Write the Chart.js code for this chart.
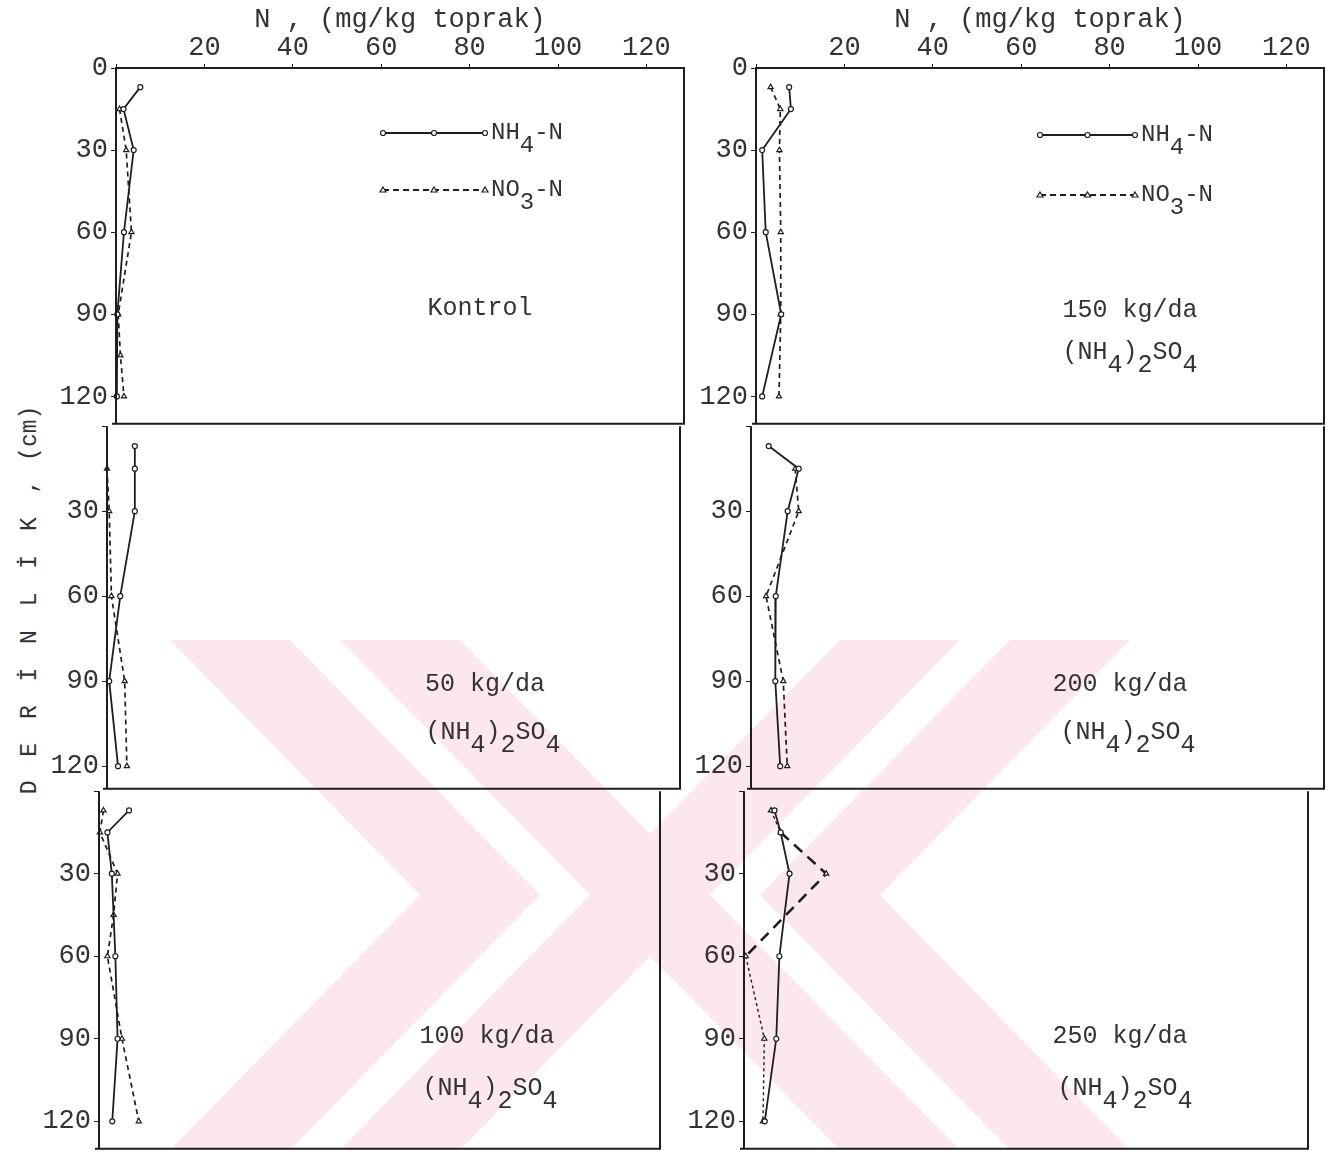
<!DOCTYPE html>
<html>
<head>
<meta charset="utf-8">
<script src="https://cdn.jsdelivr.net/npm/chart.js@4.4.1/dist/chart.umd.min.js"></script>
<style>
  html, body { margin: 0; padding: 0; background: #fff; }
  #page { position: relative; width: 1335px; height: 1154px; overflow: hidden; }
  #page canvas { position: absolute; }
  #wm { position: absolute; left: 0; top: 0; }
  #ytitle {
    position: absolute; left: 30px; top: 600px;
    transform: translate(-50%, -50%) rotate(-90deg);
    font: 23px 'Liberation Mono', monospace; color: #333; white-space: nowrap;
  }
  #ytitle span { letter-spacing: 5px; }
</style>
</head>
<body>
<div id="page">
  <svg id="wm" width="1335" height="1154">
    <g fill="#fce8ec">
      <polygon points="170,640 290,640 540,895 290,1150 170,1150 420,895"/>
      <polygon points="340,640 460,640 710,895 460,1150 340,1150 590,895"/>
      <polygon points="1130,640 1010,640 760,895 1010,1150 1130,1150 880,895"/>
      <polygon points="960,640 840,640 590,895 840,1150 960,1150 710,895"/>
    </g>
  </svg>
  <div id="ytitle"><span>D E R İ N L İ K ,</span> (cm)</div>
</div>
<script>
// depths (cm) at which samples are plotted
const depthA = [7, 15, 30, 60, 90, 120];
const depthKontrolNO3 = [15, 30, 60, 90, 105, 120];
const depth50NO3 = [15, 30, 60, 90, 120];
const depth100NO3 = [7, 15, 30, 45, 60, 90, 120];
const depth200NO3 = [15, 30, 60, 90, 120];

// N, mg/kg toprak
const kontrolNH4 = [5.5, 1.7, 4.0, 1.8, 0.3, 0.2];
const kontrolNO3 = [0.8, 2.3, 3.5, 0.5, 1.0, 1.8];
const da50NH4 = [6.3, 6.3, 6.3, 3.0, 0.5, 2.5];
const da50NO3 = [0.0, 0.5, 1.0, 4.0, 4.5];
const da100NH4 = [6.8, 1.9, 2.9, 3.7, 4.2, 3.0];
const da100NO3 = [1.0, 0.2, 4.2, 3.3, 1.9, 5.2, 9.0];
const da150NH4 = [7.5, 7.9, 1.4, 2.2, 5.7, 1.4];
const da150NO3 = [3.3, 5.5, 5.3, 5.6, 5.6, 5.2];
const da200NH4 = [4.0, 10.8, 8.3, 5.6, 5.5, 6.6];
const da200NO3 = [10.0, 10.8, 3.4, 7.3, 8.2];
const da250NH4 = [6.9, 8.3, 10.3, 8.0, 7.3, 4.7];
const da250NO3 = [6.1, 8.3, 18.6, 0.4, 4.6, 4.3];

const xTicks = [20, 40, 60, 80, 100, 120];
const yTicks = [0, 30, 60, 90, 120];

const INK = '#1e1e1e';
const TXT = '#333';
const FONT = "'Liberation Mono', monospace";
const PX_PER_UNIT = 4.42;

// the scanned page is slightly skewed, so each panel has its own box
const ROWS = [{top: 68, height: 357, max: 130}, {top: 425, height: 365, max: 128}, {top: 790, height: 360, max: 130}];
const BOXES = [
  [{left: 116, width: 568}, {left: 756, width: 568}],
  [{left: 107, width: 573}, {left: 751, width: 573}],
  [{left: 99, width: 561}, {left: 744, width: 564}]
];

function series(depths, values) {
  return depths.map((d, i) => ({x: values[i], y: d}));
}

// draws text with subscripts: parts = [[text, sub?], ...]
function drawRich(ctx, parts, cx, y, size) {
  ctx.font = size + 'px ' + FONT;
  const w = parts.reduce((s, p) => s + ctx.measureText(p[0]).width, 0);
  let x = cx - w / 2;
  ctx.textBaseline = 'middle';
  ctx.textAlign = 'left';
  for (const [t, sub] of parts) {
    ctx.fillText(t, x, sub ? y + 13 : y);
    x += ctx.measureText(t).width;
  }
}

const SALT = [['(NH'], ['4', 1], [')'], ['2', 1], ['SO'], ['4', 1]];

const decor = {
  id: 'decor',
  afterDraw(chart, args, opts) {
    const {ctx, chartArea: a} = chart;
    ctx.save();
    ctx.strokeStyle = INK;
    ctx.lineWidth = 2;
    ctx.beginPath();
    if (opts.top) { ctx.moveTo(a.left, a.top); ctx.lineTo(a.right, a.top); }
    ctx.moveTo(a.right, a.top); ctx.lineTo(a.right, a.bottom); ctx.lineTo(a.left - 4, a.bottom);
    ctx.moveTo(a.left, a.top); ctx.lineTo(a.left, a.bottom);
    ctx.stroke();
    ctx.fillStyle = TXT;
    (opts.lines || []).forEach((ln) => {
      drawRich(ctx, ln.parts, a.left + ln.x, a.top + ln.y, ln.size || 25);
    });
    if (opts.legend) {
      const L = opts.legend;
      const rows = [
        {dash: [], y: L.y1, marker: 'circle', parts: [['NH'], ['4', 1], ['-N']]},
        {dash: [6, 4], y: L.y2, marker: 'triangle', parts: [['NO'], ['3', 1], ['-N']]}
      ];
      for (const r of rows) {
        const x0 = a.left + L.x0, x1 = a.left + L.x1, y = a.top + r.y;
        ctx.strokeStyle = INK;
        ctx.lineWidth = 1.8;
        ctx.setLineDash(r.dash);
        ctx.beginPath(); ctx.moveTo(x0, y); ctx.lineTo(x1, y); ctx.stroke();
        ctx.setLineDash([]);
        ctx.lineWidth = 1.2;
        for (const mx of [x0, (x0 + x1) / 2, x1]) {
          ctx.beginPath();
          if (r.marker === 'circle') ctx.arc(mx, y, 2.5, 0, Math.PI * 2);
          else { ctx.moveTo(mx, y - 3); ctx.lineTo(mx + 3, y + 2); ctx.lineTo(mx - 3, y + 2); ctx.closePath(); }
          ctx.fillStyle = '#fff'; ctx.fill(); ctx.stroke();
        }
        ctx.fillStyle = TXT;
        ctx.font = '24px ' + FONT;
        const w = r.parts.reduce((s, p) => s + ctx.measureText(p[0]).width, 0);
        drawRich(ctx, r.parts, x1 + 6 + w / 2, y, 24);
      }
    }
    ctx.restore();
  }
};

function noPad(s) {
  s.paddingTop = 0; s.paddingBottom = 0; s.paddingLeft = 0; s.paddingRight = 0;
}

function makePanel(col, row, nh4, no3, decorOpts, no3Segment) {
  const C = BOXES[row][col], R = ROWS[row];
  const topRow = row === 0;
  const padTop = topRow ? R.top : 4;
  const cv = document.createElement('canvas');
  const W = C.width + 70 + 15, H = R.height + padTop + 4;
  cv.width = W; cv.height = H;
  cv.style.left = (C.left - 70) + 'px';
  cv.style.top = (R.top - padTop) + 'px';
  cv.style.width = W + 'px'; cv.style.height = H + 'px';
  document.getElementById('page').appendChild(cv);
  decorOpts.top = topRow;

  const no3Set = {
    label: 'NO3-N', data: no3, borderColor: INK, borderWidth: 1.7, borderDash: [5, 4],
    pointStyle: 'triangle', pointRadius: 3, pointBackgroundColor: '#fff',
    pointBorderColor: INK, pointBorderWidth: 1.2, tension: 0, fill: false, clip: 8
  };
  if (no3Segment) no3Set.segment = no3Segment;

  new Chart(cv, {
    type: 'line',
    data: {
      datasets: [
        {
          label: 'NH4-N', data: nh4, borderColor: INK, borderWidth: 1.8,
          pointStyle: 'circle', pointRadius: 2.5, pointBackgroundColor: '#fff',
          pointBorderColor: INK, pointBorderWidth: 1.2, tension: 0, fill: false, clip: 8
        },
        no3Set
      ]
    },
    options: {
      responsive: false,
      animation: false,
      devicePixelRatio: 1,
      layout: {padding: {left: 0, right: 15, top: topRow ? 0 : 4, bottom: 4}},
      plugins: {legend: {display: false}, tooltip: {enabled: false}, decor: decorOpts},
      scales: {
        x: {
          type: 'linear', position: 'top', min: 0, max: C.width / PX_PER_UNIT, display: topRow,
          afterBuildTicks: (s) => { s.ticks = [0, ...xTicks].map((v) => ({value: v})); },
          afterFit: (s) => { s.height = topRow ? R.top : 0; noPad(s); },
          ticks: {
            callback: (v) => (v === 0 ? '' : v), font: {family: FONT, size: 27},
            color: TXT, padding: 0, maxRotation: 0, autoSkip: false
          },
          grid: {drawOnChartArea: false, drawTicks: true, tickLength: 4, color: INK},
          border: {color: INK, width: 2},
          title: {display: true, text: 'N , (mg/kg toprak)', font: {family: FONT, size: 27}, color: TXT, padding: {top: 4, bottom: 0}}
        },
        y: {
          type: 'linear', reverse: true, min: 0, max: R.max,
          afterBuildTicks: (s) => { s.ticks = yTicks.map((v) => ({value: v})); },
          afterFit: (s) => { s.width = 70; noPad(s); },
          ticks: {
            callback: (v) => (v === 0 && !topRow ? '' : v), font: {family: FONT, size: 27},
            color: TXT, padding: 3
          },
          grid: {drawOnChartArea: false, drawTicks: true, tickLength: 5, color: INK},
          border: {display: false}
        }
      }
    },
    plugins: [decor]
  });
}

makePanel(0, 0, series(depthA, kontrolNH4), series(depthKontrolNO3, kontrolNO3), {
  lines: [{x: 364, y: 240, parts: [['Kontrol']]}],
  legend: {x0: 267, x1: 369, y1: 65, y2: 122}
});
makePanel(1, 0, series(depthA, da150NH4), series(depthA, da150NO3), {
  lines: [{x: 374, y: 242, parts: [['150 kg/da']]}, {x: 374, y: 284, parts: SALT}],
  legend: {x0: 284, x1: 379, y1: 67, y2: 127}
});
makePanel(0, 1, series(depthA, da50NH4), series(depth50NO3, da50NO3), {
  lines: [{x: 378, y: 258, parts: [['50 kg/da']]}, {x: 386, y: 306, parts: SALT}]
});
makePanel(1, 1, series(depthA, da200NH4), series(depth200NO3, da200NO3), {
  lines: [{x: 369, y: 258, parts: [['200 kg/da']]}, {x: 377, y: 306, parts: SALT}]
});
makePanel(0, 2, series(depthA, da100NH4), series(depth100NO3, da100NO3), {
  lines: [{x: 388, y: 245, parts: [['100 kg/da']]}, {x: 391, y: 297, parts: SALT}]
});
makePanel(1, 2, series(depthA, da250NH4), series(depthA, da250NO3), {
  lines: [{x: 376, y: 245, parts: [['250 kg/da']]}, {x: 381, y: 297, parts: SALT}]
}, {
  borderWidth: (c) => (c.p0DataIndex >= 1 && c.p0DataIndex <= 2 ? 2.6 : 1.4),
  borderDash: (c) => (c.p0DataIndex >= 1 && c.p0DataIndex <= 2 ? [11, 7] : [3, 3])
});
</script>
</body>
</html>
